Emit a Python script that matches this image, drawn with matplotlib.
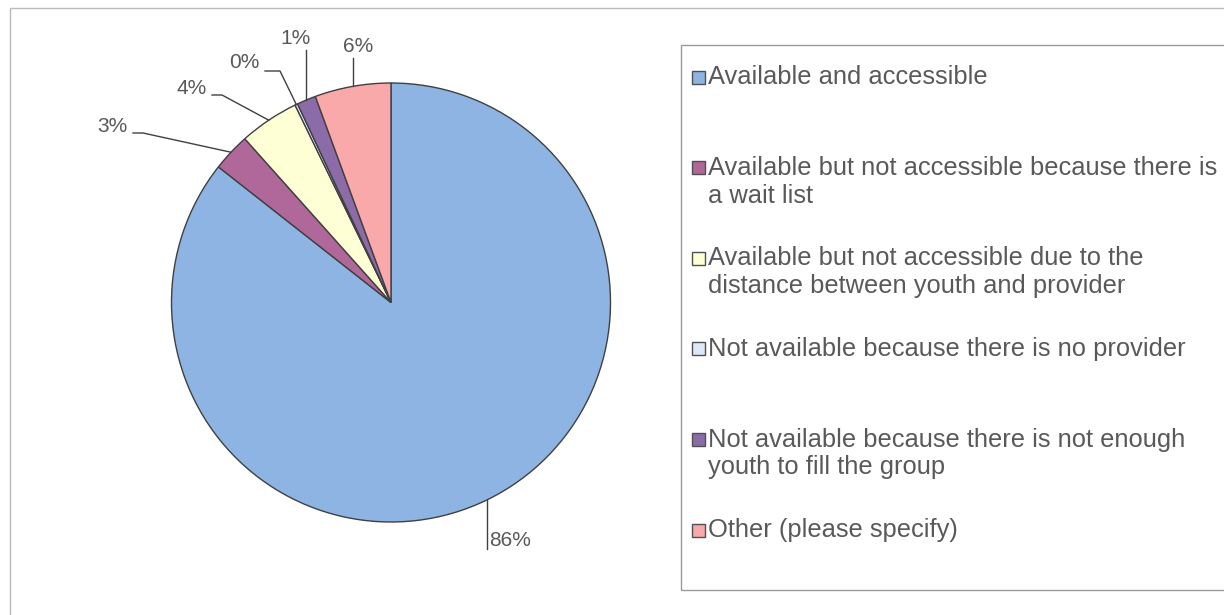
import matplotlib.pyplot as plt
from matplotlib.patches import Rectangle
import numpy as np

categories = [
    "Available and accessible",
    "Available but not accessible because there is\na wait list",
    "Available but not accessible due to the\ndistance between youth and provider",
    "Not available because there is no provider",
    "Not available because there is not enough\nyouth to fill the group",
    "Other (please specify)",
]
values = [85.6, 2.8, 4.4, 0.2, 1.4, 5.6]
colors = ["#8DB4E2", "#B0679A", "#FFFFD6", "#DCE9F6", "#8B6BA8", "#F9A9A9"]

W, H = 1224, 615
TEXT = "#595959"
LINE = "#404040"


def fy(y):
    # image pixel row -> data y
    return H - y


def main():
    plt.rcParams["font.family"] = ["Liberation Sans", "DejaVu Sans"]
    fig = plt.figure(figsize=(W / 100, H / 100), dpi=100)
    ax = fig.add_axes([0, 0, 1, 1])

    cx, cy, r = 391, fy(302.5), 219.5
    wedges, _ = ax.pie(values, colors=colors, startangle=90, counterclock=False,
                       center=(cx, cy), radius=r,
                       wedgeprops=dict(edgecolor=LINE, linewidth=1.0))

    # data labels with leader lines (text pos, ha, leader start, knee)
    lab_pos = [(489, 541, "left"), (128, 127, "right"), (207, 88, "right"),
               (260, 63, "right"), (296, 38, "center"), (358, 47, "center")]
    lead_start = [(485, 549), (133, 133), (212, 95), (265, 71), (306, 50), (353, 58)]
    lead_knee = [(485, 549), (143, 133), (222, 95), (280, 71), (306, 50), (353, 58)]
    for w, v, (tx, ty, ha), s, k in zip(wedges, values, lab_pos, lead_start, lead_knee):
        mid = np.deg2rad((w.theta1 + w.theta2) / 2)
        ax_, ay_ = cx + r * np.cos(mid), cy + r * np.sin(mid)
        if ha != "right":
            # vertical leaders sit straight over the anchor
            s = (ax_, s[1])
            k = (ax_, k[1])
        ax.plot([s[0], k[0], ax_], [fy(s[1]), fy(k[1]), ay_], color=LINE, lw=1.0)
        ax.text(tx, fy(ty), f"{round(v)}%", ha=ha, va="center", fontsize=15, color=TEXT)

    # legend, Excel-style slots
    ax.add_patch(Rectangle((681, fy(590)), 600, 545, fill=False, edgecolor="#9A9A9A", lw=1.0))
    for i, (lab, c) in enumerate(zip(categories, colors)):
        yc = 77 + i * 90.6
        ax.add_patch(Rectangle((692, fy(yc + 6.5)), 13, 13, facecolor=c, edgecolor="#505050", lw=1.0))
        ax.text(708, fy(yc - 11.8), lab, ha="left", va="top", fontsize=18.4, color=TEXT,
                linespacing=1.2)

    # chart area border
    ax.add_patch(Rectangle((10, fy(700)), 1300, 692, fill=False, edgecolor="#BBBBBB", lw=1.0))

    ax.set_xlim(0, W)
    ax.set_ylim(0, H)
    ax.axis("off")
    fig.savefig("out.png", dpi=100)


if __name__ == "__main__":
    main()
